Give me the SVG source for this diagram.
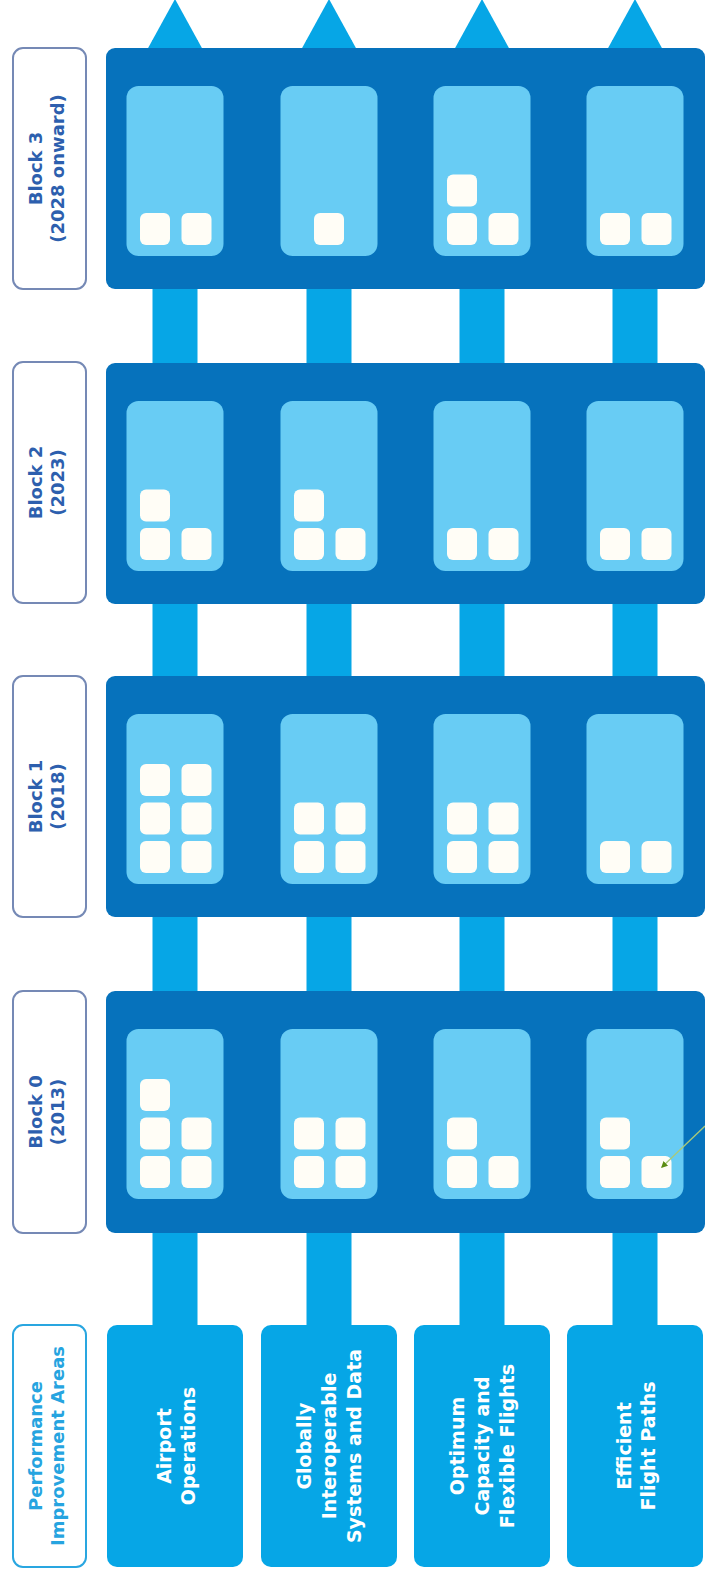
<svg xmlns="http://www.w3.org/2000/svg" width="705" height="1578" viewBox="0 0 705 1578">
<style>
.shaft{fill:#06a6e6}
.head{fill:#06a6e6}
.panel{fill:#0672bc}
.card{fill:#68ccf4}
.sq{fill:#fffdf6}
.lblbox{fill:#ffffff;stroke:#7589b5;stroke-width:2}
.piabox{fill:#ffffff;stroke:#29a6e0;stroke-width:2}
.lbl{font-family:"DejaVu Sans","Liberation Sans",sans-serif;font-weight:bold;font-size:18px;fill:#2d5fae;text-anchor:middle}
.pialbl{font-family:"DejaVu Sans","Liberation Sans",sans-serif;font-weight:bold;font-size:18px;fill:#26a4e0;text-anchor:middle}
.area{fill:#06a6e6}
.areatxt{font-family:"DejaVu Sans","Liberation Sans",sans-serif;font-weight:bold;font-size:19px;fill:#ffffff;text-anchor:middle}
.note{stroke:#a9c97a;stroke-width:1.3;fill:none}
</style>
<defs>
<marker id="ga" viewBox="0 0 10 10" refX="8" refY="5" markerWidth="5" markerHeight="5" orient="auto">
<path d="M0,0 L10,5 L0,10 z" fill="#5b8c13"/>
</marker>
</defs>

<g id="connectors">
<rect class="shaft" x="152.5" y="40" width="45" height="1290"/>
<rect class="shaft" x="306.5" y="40" width="45" height="1290"/>
<rect class="shaft" x="459.5" y="40" width="45" height="1290"/>
<rect class="shaft" x="612.5" y="40" width="45" height="1290"/>
<polygon class="head" points="147,50 175,-1 203,50"/>
<polygon class="head" points="301,50 329,-1 357,50"/>
<polygon class="head" points="454,50 482,-1 510,50"/>
<polygon class="head" points="607,50 635,-1 663,50"/>
</g>

<g id="label-block3">
<rect class="lblbox" x="13" y="48" width="73" height="241" rx="10"/>
<text class="lbl" transform="translate(49.5,168.5) rotate(-90)"><tspan x="0" y="-8">Block 3</tspan><tspan x="0" y="14">(2028 onward)</tspan></text>
</g>
<g id="label-block2">
<rect class="lblbox" x="13" y="362" width="73" height="241" rx="10"/>
<text class="lbl" transform="translate(49.5,482.5) rotate(-90)"><tspan x="0" y="-8">Block 2</tspan><tspan x="0" y="14">(2023)</tspan></text>
</g>
<g id="label-block1">
<rect class="lblbox" x="13" y="676" width="73" height="241" rx="10"/>
<text class="lbl" transform="translate(49.5,796.5) rotate(-90)"><tspan x="0" y="-8">Block 1</tspan><tspan x="0" y="14">(2018)</tspan></text>
</g>
<g id="label-block0">
<rect class="lblbox" x="13" y="991" width="73" height="242" rx="10"/>
<text class="lbl" transform="translate(49.5,1112) rotate(-90)"><tspan x="0" y="-8">Block 0</tspan><tspan x="0" y="14">(2013)</tspan></text>
</g>
<g id="label-pia">
<rect class="piabox" x="13" y="1325" width="73" height="242" rx="10"/>
<text class="pialbl" transform="translate(49.5,1446) rotate(-90)"><tspan x="0" y="-8">Performance</tspan><tspan x="0" y="14">Improvement Areas</tspan></text>
</g>

<g id="block3">
<rect class="panel" x="106" y="48" width="599" height="241" rx="9"/>
<rect class="card" x="126.5" y="86" width="97" height="170" rx="12"/>
<rect class="card" x="280.5" y="86" width="97" height="170" rx="12"/>
<rect class="card" x="433.5" y="86" width="97" height="170" rx="12"/>
<rect class="card" x="586.5" y="86" width="97" height="170" rx="12"/>
<rect class="sq" x="140" y="213" width="30" height="32" rx="6"/>
<rect class="sq" x="181.5" y="213" width="30" height="32" rx="6"/>
<rect class="sq" x="314" y="213" width="30" height="32" rx="6"/>
<rect class="sq" x="447" y="213" width="30" height="32" rx="6"/>
<rect class="sq" x="488.5" y="213" width="30" height="32" rx="6"/>
<rect class="sq" x="447" y="174.5" width="30" height="32" rx="6"/>
<rect class="sq" x="600" y="213" width="30" height="32" rx="6"/>
<rect class="sq" x="641.5" y="213" width="30" height="32" rx="6"/>
</g>

<g id="block2">
<rect class="panel" x="106" y="363" width="599" height="241" rx="9"/>
<rect class="card" x="126.5" y="401" width="97" height="170" rx="12"/>
<rect class="card" x="280.5" y="401" width="97" height="170" rx="12"/>
<rect class="card" x="433.5" y="401" width="97" height="170" rx="12"/>
<rect class="card" x="586.5" y="401" width="97" height="170" rx="12"/>
<rect class="sq" x="140" y="528" width="30" height="32" rx="6"/>
<rect class="sq" x="181.5" y="528" width="30" height="32" rx="6"/>
<rect class="sq" x="140" y="489.5" width="30" height="32" rx="6"/>
<rect class="sq" x="294" y="528" width="30" height="32" rx="6"/>
<rect class="sq" x="335.5" y="528" width="30" height="32" rx="6"/>
<rect class="sq" x="294" y="489.5" width="30" height="32" rx="6"/>
<rect class="sq" x="447" y="528" width="30" height="32" rx="6"/>
<rect class="sq" x="488.5" y="528" width="30" height="32" rx="6"/>
<rect class="sq" x="600" y="528" width="30" height="32" rx="6"/>
<rect class="sq" x="641.5" y="528" width="30" height="32" rx="6"/>
</g>

<g id="block1">
<rect class="panel" x="106" y="676" width="599" height="241" rx="9"/>
<rect class="card" x="126.5" y="714" width="97" height="170" rx="12"/>
<rect class="card" x="280.5" y="714" width="97" height="170" rx="12"/>
<rect class="card" x="433.5" y="714" width="97" height="170" rx="12"/>
<rect class="card" x="586.5" y="714" width="97" height="170" rx="12"/>
<rect class="sq" x="140" y="841" width="30" height="32" rx="6"/>
<rect class="sq" x="181.5" y="841" width="30" height="32" rx="6"/>
<rect class="sq" x="140" y="802.5" width="30" height="32" rx="6"/>
<rect class="sq" x="181.5" y="802.5" width="30" height="32" rx="6"/>
<rect class="sq" x="140" y="764" width="30" height="32" rx="6"/>
<rect class="sq" x="181.5" y="764" width="30" height="32" rx="6"/>
<rect class="sq" x="294" y="841" width="30" height="32" rx="6"/>
<rect class="sq" x="335.5" y="841" width="30" height="32" rx="6"/>
<rect class="sq" x="294" y="802.5" width="30" height="32" rx="6"/>
<rect class="sq" x="335.5" y="802.5" width="30" height="32" rx="6"/>
<rect class="sq" x="447" y="841" width="30" height="32" rx="6"/>
<rect class="sq" x="488.5" y="841" width="30" height="32" rx="6"/>
<rect class="sq" x="447" y="802.5" width="30" height="32" rx="6"/>
<rect class="sq" x="488.5" y="802.5" width="30" height="32" rx="6"/>
<rect class="sq" x="600" y="841" width="30" height="32" rx="6"/>
<rect class="sq" x="641.5" y="841" width="30" height="32" rx="6"/>
</g>

<g id="block0">
<rect class="panel" x="106" y="991" width="599" height="242" rx="9"/>
<rect class="card" x="126.5" y="1029" width="97" height="170" rx="12"/>
<rect class="card" x="280.5" y="1029" width="97" height="170" rx="12"/>
<rect class="card" x="433.5" y="1029" width="97" height="170" rx="12"/>
<rect class="card" x="586.5" y="1029" width="97" height="170" rx="12"/>
<rect class="sq" x="140" y="1156" width="30" height="32" rx="6"/>
<rect class="sq" x="181.5" y="1156" width="30" height="32" rx="6"/>
<rect class="sq" x="140" y="1117.5" width="30" height="32" rx="6"/>
<rect class="sq" x="181.5" y="1117.5" width="30" height="32" rx="6"/>
<rect class="sq" x="140" y="1079" width="30" height="32" rx="6"/>
<rect class="sq" x="294" y="1156" width="30" height="32" rx="6"/>
<rect class="sq" x="335.5" y="1156" width="30" height="32" rx="6"/>
<rect class="sq" x="294" y="1117.5" width="30" height="32" rx="6"/>
<rect class="sq" x="335.5" y="1117.5" width="30" height="32" rx="6"/>
<rect class="sq" x="447" y="1156" width="30" height="32" rx="6"/>
<rect class="sq" x="488.5" y="1156" width="30" height="32" rx="6"/>
<rect class="sq" x="447" y="1117.5" width="30" height="32" rx="6"/>
<rect class="sq" x="600" y="1156" width="30" height="32" rx="6"/>
<rect class="sq" x="641.5" y="1156" width="30" height="32" rx="6"/>
<rect class="sq" x="600" y="1117.5" width="30" height="32" rx="6"/>
</g>

<g id="pointer">
<line class="note" x1="705" y1="1126" x2="662" y2="1167" marker-end="url(#ga)"/>
</g>

<g id="area-airport">
<rect class="area" x="107" y="1325" width="136" height="242" rx="10"/>
<text class="areatxt" transform="translate(175,1446) rotate(-90)"><tspan x="0" y="-4.5">Airport</tspan><tspan x="0" y="19.5">Operations</tspan></text>
</g>
<g id="area-systems">
<rect class="area" x="261" y="1325" width="136" height="242" rx="10"/>
<text class="areatxt" transform="translate(329,1446) rotate(-90)"><tspan x="0" y="-18">Globally</tspan><tspan x="0" y="7">Interoperable</tspan><tspan x="0" y="32">Systems and Data</tspan></text>
</g>
<g id="area-capacity">
<rect class="area" x="414" y="1325" width="136" height="242" rx="10"/>
<text class="areatxt" transform="translate(482,1446) rotate(-90)"><tspan x="0" y="-18">Optimum</tspan><tspan x="0" y="7">Capacity and</tspan><tspan x="0" y="32">Flexible Flights</tspan></text>
</g>
<g id="area-paths">
<rect class="area" x="567" y="1325" width="136" height="242" rx="10"/>
<text class="areatxt" transform="translate(635,1446) rotate(-90)"><tspan x="0" y="-4.5">Efficient</tspan><tspan x="0" y="19.5">Flight Paths</tspan></text>
</g>
</svg>
